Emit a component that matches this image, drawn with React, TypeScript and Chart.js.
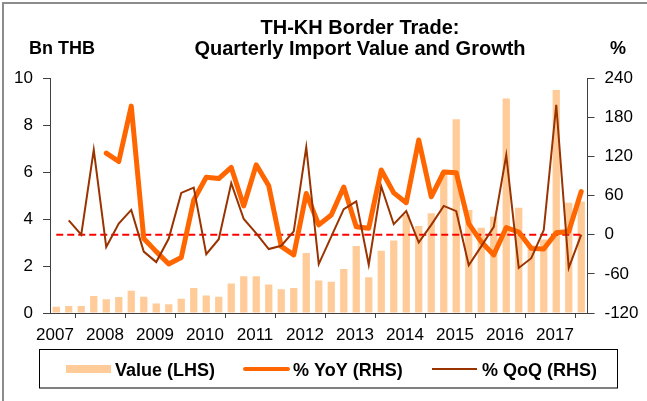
import { useEffect, useRef } from 'react';
import { Chart, registerables } from 'chart.js';

Chart.register(...registerables);

// ---- Data ----
const yearLabels = ['2007', '2008', '2009', '2010', '2011', '2012', '2013', '2014', '2015', '2016', '2017'];
const quarterLabels: string[] = [];
yearLabels.forEach((y) => ['Q1', 'Q2', 'Q3', 'Q4'].forEach((q) => quarterLabels.push(y + q)));
quarterLabels.splice(43); // 2007Q1 .. 2017Q3

// Import value, Bn THB (LHS)
const valueLHS = [
  0.27, 0.30, 0.30, 0.72, 0.58, 0.68, 0.95, 0.69, 0.40, 0.37, 0.61, 1.06,
  0.74, 0.69, 1.26, 1.56, 1.56, 1.21, 1.01, 1.06, 2.55, 1.38, 1.33, 1.87,
  2.85, 1.52, 2.65, 3.08, 4.18, 3.70, 4.24, 6.00, 8.24, 4.38, 3.63, 4.10,
  9.13, 4.48, 2.87, 3.13, 9.49, 4.69, 4.74,
];

// % YoY (RHS)
const yoyRHS: (number | null)[] = [
  null, null, null, null, 125, 112, 197, -6, -26, -45, -35, 53,
  88, 86, 103, 44, 107, 75, -18, -31, 63, 15, 30, 73,
  12, 10, 99, 64, 49, 145, 58, 96, 95, 17, -11, -31,
  11, 4, -21, -22, 3, 5, 66,
];

// % QoQ (RHS)
const qoqRHS: (number | null)[] = [
  null, 22, 0, 130, -19, 17, 38, -26, -42, -6, 64, 72,
  -30, -7, 79, 24, 2, -22, -17, 5, 134, -45, -3, 39,
  51, -46, 74, 16, 36, -12, 15, 44, 36, -47, -18, 12,
  122, -51, -36, 7, 199, -51, 0,
];

// Zero reference line (RHS)
const zeroRHS = [
  0, 0, 0, 0, 0, 0, 0, 0, 0, 0, 0, 0, 0, 0, 0, 0, 0, 0, 0, 0, 0, 0,
  0, 0, 0, 0, 0, 0, 0, 0, 0, 0, 0, 0, 0, 0, 0, 0, 0, 0, 0, 0, 0,
];

const titleLines = ['TH-KH Border Trade:', 'Quarterly Import Value and Growth'];
const leftUnit = 'Bn THB';
const rightUnit = '%';
const legendNames = ['Value (LHS)', '% YoY (RHS)', '% QoQ (RHS)'];

const FONT = "'Liberation Sans', Arial, sans-serif";
const BAR_COLOR = '#FFCC99';
const YOY_COLOR = '#FF6600';
const QOQ_COLOR = '#993300';

const toXY = (arr: (number | null)[]) => arr.map((v, i) => ({ x: i + 0.5, y: v }));

const decorPlugin = {
  id: 'decor',
  beforeDraw(chart: any) {
    const { ctx, width, height } = chart;
    ctx.save();
    ctx.fillStyle = '#ffffff';
    ctx.fillRect(0, 0, width, height);
    ctx.strokeStyle = '#8c8c8c';
    ctx.lineWidth = 2;
    ctx.beginPath();
    ctx.moveTo(3, height);
    ctx.lineTo(3, 3);
    ctx.lineTo(width, 3);
    ctx.stroke();
    ctx.restore();
  },
  afterDraw(chart: any) {
    const { ctx } = chart;
    ctx.save();
    ctx.fillStyle = '#000';
    ctx.textBaseline = 'alphabetic';
    // Title
    ctx.font = `bold 20px ${FONT}`;
    ctx.textAlign = 'center';
    ctx.fillText(titleLines[0], 360, 34);
    ctx.fillText(titleLines[1], 360, 55);
    // Units
    ctx.font = `bold 18px ${FONT}`;
    ctx.textAlign = 'left';
    ctx.fillText(leftUnit, 29, 54);
    ctx.fillText(rightUnit, 610, 54);
    // Legend box
    ctx.strokeStyle = '#000';
    ctx.lineWidth = 1;
    ctx.strokeRect(39.5, 349.5, 578, 38.5);
    // Legend items
    ctx.fillStyle = BAR_COLOR;
    ctx.fillRect(66, 365, 45, 8);
    ctx.strokeStyle = YOY_COLOR;
    ctx.lineWidth = 4;
    ctx.lineCap = 'round';
    ctx.beginPath();
    ctx.moveTo(245, 369);
    ctx.lineTo(288, 369);
    ctx.stroke();
    ctx.strokeStyle = QOQ_COLOR;
    ctx.lineWidth = 2;
    ctx.lineCap = 'butt';
    ctx.beginPath();
    ctx.moveTo(432, 369);
    ctx.lineTo(477, 369);
    ctx.stroke();
    ctx.fillStyle = '#000';
    ctx.font = `bold 18px ${FONT}`;
    ctx.fillText(legendNames[0], 115, 376);
    ctx.fillText(legendNames[1], 293, 376);
    ctx.fillText(legendNames[2], 482, 376);
    ctx.restore();
  },
};

export default function App() {
  const canvasRef = useRef<HTMLCanvasElement | null>(null);

  useEffect(() => {
    if (!canvasRef.current) return;
    const tickFont = { family: FONT, size: 17 };
    const chart = new Chart(canvasRef.current, {
      type: 'bar',
      data: {
        labels: quarterLabels,
        datasets: [
          {
            type: 'line',
            label: legendNames[2],
            data: toXY(qoqRHS),
            yAxisID: 'yR',
            borderColor: QOQ_COLOR,
            borderWidth: 2,
            pointRadius: 0,
            tension: 0,
            order: 1,
          },
          {
            type: 'line',
            label: legendNames[1],
            data: toXY(yoyRHS),
            yAxisID: 'yR',
            borderColor: YOY_COLOR,
            borderWidth: 5,
            borderJoinStyle: 'round',
            borderCapStyle: 'round',
            pointRadius: 0,
            tension: 0,
            order: 2,
          },
          {
            type: 'line',
            label: 'zero',
            data: toXY(zeroRHS),
            yAxisID: 'yR',
            borderColor: '#FF0000',
            borderWidth: 2,
            borderDash: [7, 4],
            pointRadius: 0,
            order: 3,
          },
          {
            type: 'bar',
            label: legendNames[0],
            data: toXY(valueLHS),
            yAxisID: 'yL',
            backgroundColor: BAR_COLOR,
            barPercentage: 0.58,
            categoryPercentage: 1,
            order: 4,
          },
        ] as any,
      },
      options: {
        animation: false,
        responsive: false,
        layout: { padding: { top: 78, left: 0, right: 0, bottom: 0 } },
        plugins: {
          legend: { display: false },
          title: { display: false },
          tooltip: { enabled: false },
        },
        scales: {
          x: {
            type: 'linear',
            min: 0,
            max: 43,
            offset: false,
            afterBuildTicks: (scale: any) => {
              scale.ticks = yearLabels.map((_, i) => ({ value: i * 4 }));
            },
            afterFit: (scale: any) => {
              scale.height = 88;
            },
            ticks: {
              callback: (v: any) => yearLabels[Math.round(Number(v) / 4)] ?? '',
              font: tickFont,
              color: '#000',
              padding: 7,
              maxRotation: 0,
              autoSkip: false,
              labelOffset: 5,
            },
            grid: { drawOnChartArea: false, drawTicks: true, tickLength: 5, color: '#404040' },
            border: { color: '#404040', width: 1 },
          },
          yL: {
            type: 'linear',
            position: 'left',
            min: 0,
            max: 10,
            ticks: { stepSize: 2, font: tickFont, color: '#000', padding: 10 },
            grid: { drawOnChartArea: false, drawTicks: true, tickLength: 7, color: '#404040' },
            border: { color: '#404040', width: 1 },
            afterFit: (scale: any) => {
              scale.width = 50;
            },
          },
          yR: {
            type: 'linear',
            position: 'right',
            min: -120,
            max: 240,
            ticks: { stepSize: 60, font: tickFont, color: '#000', padding: 10 },
            grid: { drawOnChartArea: false, drawTicks: true, tickLength: 7, color: '#404040' },
            border: { color: '#404040', width: 1 },
            afterFit: (scale: any) => {
              scale.width = 59.5;
            },
          },
        },
      } as any,
      plugins: [decorPlugin],
    });
    return () => chart.destroy();
  }, []);

  return (
    <div style={{ position: 'fixed', left: 0, top: 0, width: 647, height: 401, background: '#fff' }}>
      <canvas ref={canvasRef} width={647} height={401} style={{ display: 'block' }} />
    </div>
  );
}
